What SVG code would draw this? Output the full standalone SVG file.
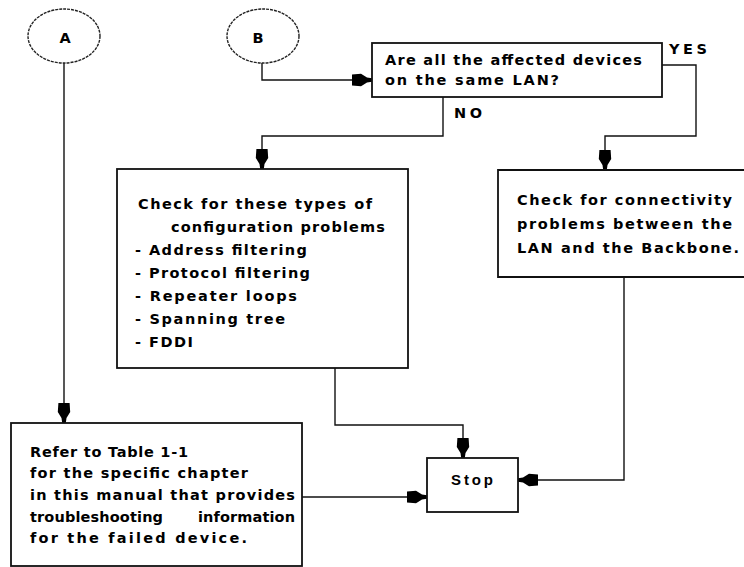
<svg xmlns="http://www.w3.org/2000/svg" width="744" height="567" viewBox="0 0 744 567">
<style>
.bg{fill:#fff}
.box{fill:#fff;stroke:#111;stroke-width:1.8}
.term{fill:#fff;stroke:#222;stroke-width:1.4;stroke-dasharray:3 1}
.wire{fill:none;stroke:#111;stroke-width:1.4}
.arr{marker-end:url(#ah)}
text{font-family:"DejaVu Sans","Liberation Sans",sans-serif;font-weight:bold;font-size:14.5px;fill:#000}
.stop{font-family:"Liberation Sans",Arial,sans-serif;font-size:15px}
</style>
<defs>
<marker id="ah" markerUnits="userSpaceOnUse" viewBox="-21 -7 22 14" refX="0" refY="0" markerWidth="22" markerHeight="14" orient="auto">
<path d="M0,-1.8 L-5,-2.5 L-11,-6.2 L-20,-5.6 L-20,5.6 L-11,6.2 L-5,2.5 L0,1.8 Z" fill="#000"/>
</marker>
</defs>
<rect class="bg" width="744" height="567"/>
<g id="connectors">
<path class="wire arr" d="M64,63 V423"/>
<path class="wire arr" d="M262,63 V80 H372"/>
<path class="wire arr" d="M662,65 H696 V136 H605 V170"/>
<path class="wire arr" d="M443,97 V136 H262 V169"/>
<path class="wire arr" d="M335,368 V425 H463 V458"/>
<path class="wire arr" d="M302,497 H427"/>
<path class="wire arr" d="M624,277 V480 H518"/>
</g>
<g id="labels">
<text x="669" y="54" textLength="38" lengthAdjust="spacing">YES</text>
<text x="454" y="118" textLength="28" lengthAdjust="spacing">NO</text>
</g>
<g id="nodeA">
<ellipse class="term" cx="64" cy="36" rx="36" ry="27"/>
<text x="65" y="43" text-anchor="middle">A</text>
</g>
<g id="nodeB">
<ellipse class="term" cx="263" cy="36" rx="36" ry="27"/>
<text x="258" y="43" text-anchor="middle">B</text>
</g>
<g id="question">
<rect class="box" x="372" y="43" width="290" height="54"/>
<text x="385" y="65" textLength="257" lengthAdjust="spacing">Are all the affected devices</text>
<text x="385" y="85" textLength="174" lengthAdjust="spacing">on the same LAN?</text>
</g>
<g id="config">
<rect class="box" x="117" y="169" width="291" height="199"/>
<text x="138" y="209" textLength="234" lengthAdjust="spacing">Check for these types of</text>
<text x="171" y="232" textLength="214" lengthAdjust="spacing">configuration problems</text>
<text x="135" y="255" textLength="172" lengthAdjust="spacing">- Address filtering</text>
<text x="135" y="278" textLength="175" lengthAdjust="spacing">- Protocol filtering</text>
<text x="135" y="301" textLength="162" lengthAdjust="spacing">- Repeater loops</text>
<text x="135" y="324" textLength="150" lengthAdjust="spacing">- Spanning tree</text>
<text x="135" y="347" textLength="58" lengthAdjust="spacing">- FDDI</text>
</g>
<g id="connectivity">
<path class="box" d="M745,170 H498 V277 H745"/>
<text x="517" y="205" textLength="215" lengthAdjust="spacing">Check for connectivity</text>
<text x="517" y="229" textLength="215" lengthAdjust="spacing">problems between the</text>
<text x="517" y="253" textLength="222" lengthAdjust="spacing">LAN and the Backbone.</text>
</g>
<g id="refer">
<rect class="box" x="11" y="423" width="291" height="143"/>
<text x="30" y="457" textLength="158" lengthAdjust="spacing">Refer to Table 1-1</text>
<text x="30" y="478" textLength="218" lengthAdjust="spacing">for the specific chapter</text>
<text x="30" y="500" textLength="265" lengthAdjust="spacing">in this manual that provides</text>
<text x="30" y="522"><tspan textLength="133" lengthAdjust="spacing">troubleshooting</tspan> <tspan x="198" textLength="97" lengthAdjust="spacing">information</tspan></text>
<text x="30" y="543" textLength="217" lengthAdjust="spacing">for the failed device.</text>
</g>
<g id="stop">
<rect class="box" x="427" y="458" width="91" height="54"/>
<text class="stop" x="451" y="485" textLength="42" lengthAdjust="spacing">Stop</text>
</g>
</svg>
